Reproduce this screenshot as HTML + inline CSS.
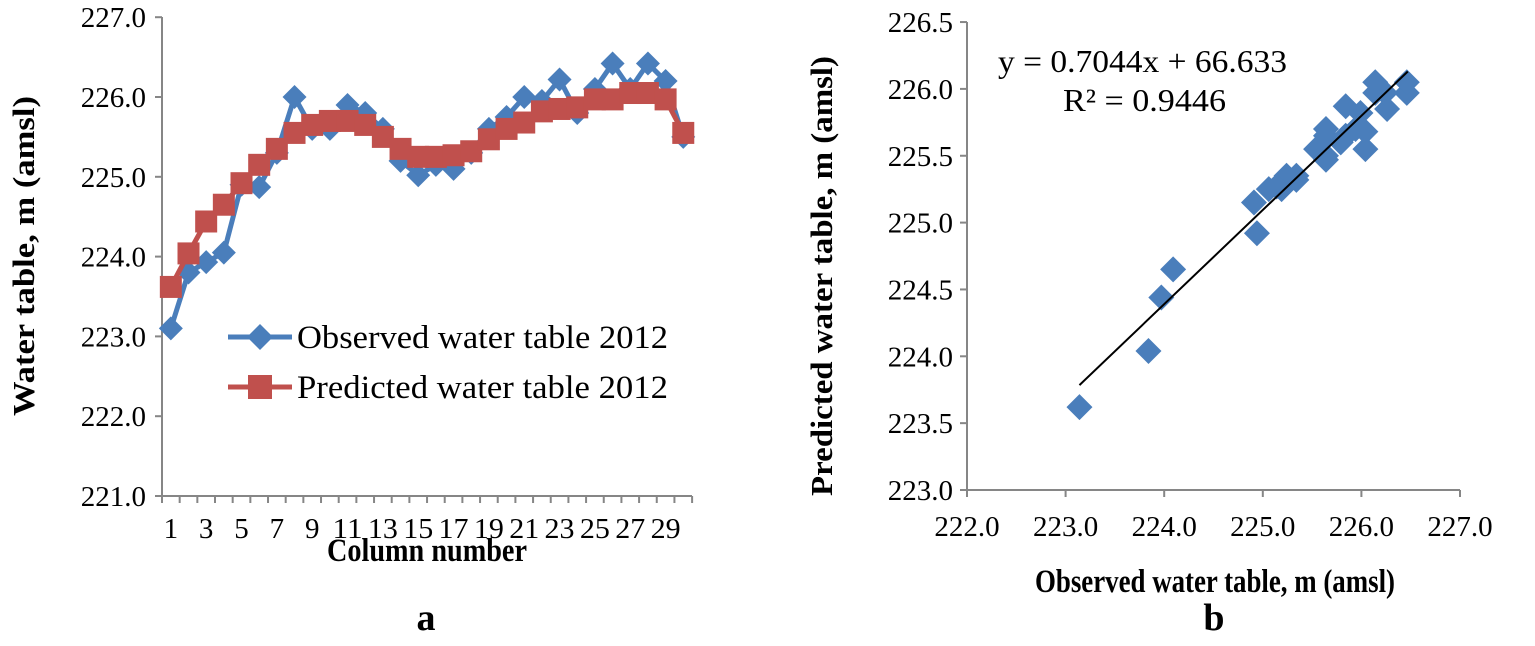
<!DOCTYPE html>
<html><head><meta charset="utf-8"><style>
html,body{margin:0;padding:0;background:#fff;}
svg{display:block;font-family:"Liberation Serif",serif;}
</style></head><body>
<svg id="s" width="1535" height="646" viewBox="0 0 1535 646" xmlns="http://www.w3.org/2000/svg">
<g id="L"></g><g id="R"></g>
<text x="34" y="256" font-size="31" font-weight="bold" text-anchor="middle" textLength="320" lengthAdjust="spacingAndGlyphs" transform="rotate(-90 34 256)">Water table, m (amsl)</text>
<text x="427" y="561" font-size="33" font-weight="bold" text-anchor="middle" textLength="200" lengthAdjust="spacingAndGlyphs">Column number</text>
<text x="426" y="630" font-size="38" font-weight="bold" text-anchor="middle">a</text>
<text x="832" y="276" font-size="31" font-weight="bold" text-anchor="middle" textLength="440" lengthAdjust="spacingAndGlyphs" transform="rotate(-90 832 276)">Predicted water table, m (amsl)</text>
<text x="1215" y="592" font-size="33" font-weight="bold" text-anchor="middle" textLength="360" lengthAdjust="spacingAndGlyphs">Observed water table, m (amsl)</text>
<text x="1214" y="630" font-size="38" font-weight="bold" text-anchor="middle">b</text>
<text x="998" y="72" font-size="32" textLength="289" lengthAdjust="spacingAndGlyphs">y = 0.7044x + 66.633</text>
<text x="1063" y="111" font-size="32" textLength="163" lengthAdjust="spacingAndGlyphs">R² = 0.9446</text>
<line x1="228" y1="337" x2="292" y2="337" stroke="#4a7ebb" stroke-width="5"/>
<path d="M260 324 L273 337 L260 350 L247 337Z" fill="#4a7ebb"/>
<text x="297" y="348" font-size="33" textLength="371" lengthAdjust="spacingAndGlyphs">Observed water table 2012</text>
<line x1="228" y1="387" x2="292" y2="387" stroke="#c0504d" stroke-width="5"/>
<rect x="248" y="375" width="24" height="24" fill="#c0504d"/>
<text x="297" y="398" font-size="33" textLength="371" lengthAdjust="spacingAndGlyphs">Predicted water table 2012</text>
</svg>
<script>
var NS="http://www.w3.org/2000/svg";
function el(p,t,a,txt){var e=document.createElementNS(NS,t);for(var k in a)e.setAttribute(k,a[k]);if(txt!==undefined)e.textContent=txt;p.appendChild(e);return e;}
var obs=[223.1,223.8,223.93,224.05,224.9,224.87,225.3,226.0,225.6,225.6,225.9,225.8,225.6,225.2,225.02,225.15,225.1,225.3,225.6,225.75,226.0,225.95,226.22,225.8,226.1,226.42,226.1,226.42,226.2,225.5];
var pre=[223.62,224.04,224.44,224.65,224.92,225.15,225.35,225.55,225.65,225.7,225.7,225.65,225.5,225.35,225.25,225.25,225.27,225.32,225.47,225.6,225.68,225.82,225.85,225.87,225.97,225.97,226.05,226.05,225.97,225.55];
var L=document.getElementById("L"),R=document.getElementById("R");
var ax="#868686";
function ly(v){return 496-(v-221)*79.8;}
function lx(i){return 162+17.67*(i+0.5);}
el(L,"line",{x1:162,y1:17,x2:162,y2:496,stroke:ax,"stroke-width":2});
el(L,"line",{x1:162,y1:496,x2:692,y2:496,stroke:ax,"stroke-width":2});
for(var v=221;v<=227;v++){var y=ly(v);el(L,"line",{x1:155,y1:y,x2:162,y2:y,stroke:ax,"stroke-width":2});
el(L,"text",{x:146,y:y+10,"font-size":29,"text-anchor":"end"},v.toFixed(1));}
for(var i=0;i<=30;i++){var x=162+17.67*i;el(L,"line",{x1:x,y1:496,x2:x,y2:503,stroke:ax,"stroke-width":2});}
for(var i=0;i<30;i+=2){var s=String(i+1);var a={x:lx(i),y:538,"font-size":29,"text-anchor":"middle"};if(s.length>1){a.textLength=30;a.lengthAdjust="spacingAndGlyphs";}el(L,"text",a,s);}
var p1=obs.map(function(v,i){return lx(i)+","+ly(v)}).join(" ");
var p2=pre.map(function(v,i){return lx(i)+","+ly(v)}).join(" ");
el(L,"polyline",{points:p1,fill:"none",stroke:"#4a7ebb","stroke-width":5,"stroke-linejoin":"round"});
obs.forEach(function(v,i){var x=lx(i),y=ly(v);el(L,"path",{d:"M"+x+" "+(y-12)+"L"+(x+12)+" "+y+"L"+x+" "+(y+12)+"L"+(x-12)+" "+y+"Z",fill:"#4a7ebb"});});
el(L,"polyline",{points:p2,fill:"none",stroke:"#c0504d","stroke-width":5,"stroke-linejoin":"round"});
pre.forEach(function(v,i){var x=lx(i),y=ly(v);el(L,"rect",{x:x-11,y:y-11,width:22,height:22,fill:"#c0504d"});});
function rx(v){return 967+(v-222)*98.6;}
function ry(v){return 490-(v-223)*133.7;}
el(R,"line",{x1:967,y1:22,x2:967,y2:490,stroke:ax,"stroke-width":2});
el(R,"line",{x1:967,y1:490,x2:1460,y2:490,stroke:ax,"stroke-width":2});
for(var k=0;k<=7;k++){var v=223+k*0.5,y=ry(v);el(R,"line",{x1:960,y1:y,x2:967,y2:y,stroke:ax,"stroke-width":2});
el(R,"text",{x:953,y:y+10,"font-size":29,"text-anchor":"end"},v.toFixed(1));}
for(var v=222;v<=227;v++){var x=rx(v);el(R,"line",{x1:x,y1:490,x2:x,y2:497,stroke:ax,"stroke-width":2});
el(R,"text",{x:x,y:536,"font-size":29,"text-anchor":"middle"},v.toFixed(1));}
obs.forEach(function(v,i){var x=rx(v)+4,y=ry(pre[i]);el(R,"path",{d:"M"+x+" "+(y-13)+"L"+(x+13)+" "+y+"L"+x+" "+(y+13)+"L"+(x-13)+" "+y+"Z",fill:"#4a7ebb"});});
el(R,"line",{x1:rx(223.1)+4,y1:ry(0.7044*223.1+66.633),x2:rx(226.43)+4,y2:ry(0.7044*226.43+66.633),stroke:"#000","stroke-width":2});
</script>
</body></html>
